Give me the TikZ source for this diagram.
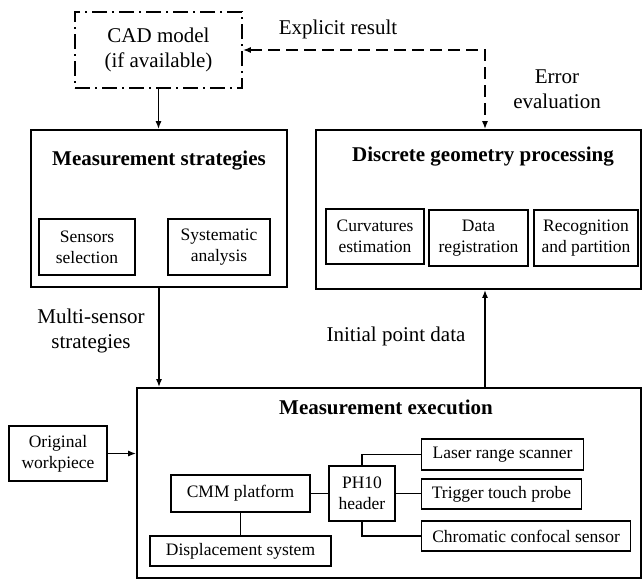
\documentclass[tikz,border=0pt]{standalone}
\usepackage{fontspec}
\setmainfont{Liberation Serif}
\usetikzlibrary{arrows.meta}
\newcommand{\bigtext}{\fontsize{21}{25}\selectfont}
\newcommand{\smalltext}{\fontsize{17.5}{21}\selectfont}

\begin{document}
\begin{tikzpicture}[x=1pt, y=-1pt, font=\bigtext,
    outerbox/.style={draw, line width=1.7pt, inner sep=0pt},
    innerbox/.style={draw, line width=1.1pt, inner sep=0pt, align=center, font=\smalltext},
    flow/.style={line width=1.4pt, -{Latex[length=8pt,width=6pt]}},
    link/.style={line width=1.4pt}]
  \useasboundingbox (0,0) rectangle (643,581);

  % The CAD model on top, drawn dash-dotted.
  \node[outerbox, align=center, dash pattern=on 15pt off 5pt on 2pt off 5pt,
        minimum width=167pt, minimum height=76pt] (cad) at (158.5,50) {CAD model\\(if available)};

  % Measurement strategies with its two parts.
  \node[outerbox, minimum width=256pt, minimum height=157pt] (strat) at (159,208.5) {};
  \node[font=\bigtext\bfseries] (strattitle) at (159,161) {Measurement strategies};
  \node[innerbox, minimum width=96pt, minimum height=56pt] (sens) at (87,247) {Sensors\\selection};
  \node[innerbox, minimum width=102pt, minimum height=56pt] (syst) at (219,247) {Systematic\\analysis};

  % Discrete geometry processing with its three parts.
  \node[outerbox, minimum width=325pt, minimum height=159pt] (dgp) at (478.5,209.5) {};
  \node[font=\bigtext\bfseries] (dgptitle) at (483,157) {Discrete geometry processing};
  \node[innerbox, minimum width=98pt, minimum height=55pt] (curv) at (375,236.5) {Curvatures\\estimation};
  \node[innerbox, minimum width=99pt, minimum height=56pt] (datareg) at (478.5,238) {Data\\registration};
  \node[innerbox, minimum width=104pt, minimum height=56pt] (recog) at (586,238) {Recognition\\and partition};

  % Measurement execution and the hardware inside it.
  \node[outerbox, minimum width=504pt, minimum height=190pt] (exec) at (389,483) {};
  \node[font=\bigtext\bfseries] (exectitle) at (386,407) {Measurement execution};
  \node[innerbox, minimum width=98pt, minimum height=55pt] (work) at (58,453.5) {Original\\workpiece};
  \node[innerbox, minimum width=139pt, minimum height=37pt] (cmm) at (240.5,493.5) {CMM platform};
  \node[innerbox, minimum width=66pt, minimum height=55pt] (ph) at (362,493.5) {PH10\\header};
  \node[innerbox, anchor=west, minimum width=162pt, minimum height=31pt] (laser) at (421,454.5) {Laser range scanner};
  \node[innerbox, anchor=west, minimum width=160pt, minimum height=30pt] (trig) at (421,494) {Trigger touch probe};
  \node[innerbox, anchor=west, minimum width=209pt, minimum height=30pt] (chrom) at (421,536) {Chromatic confocal sensor};
  \node[innerbox, minimum width=181pt, minimum height=30pt] (disp) at (240.5,551) {Displacement system};

  % Connector labels.
  \node (explicit) at (338,29) {Explicit result};
  \node[align=center] (error) at (557,89.5) {Error\\evaluation};
  \node[align=center] (multi) at (91,330.5) {Multi-sensor\\strategies};
  \node (initial) at (396,336) {Initial point data};

  % Flow between the blocks.
  \coordinate (corner) at (485,50);
  \draw[flow] (cad.south) -- (cad.south |- strat.north);
  \draw[flow, {Latex[length=8pt,width=6pt]}-{Latex[length=8pt,width=6pt]}, dash pattern=on 12pt off 6pt]
    (cad.east) -- (corner) -- (corner |- dgp.north);
  \draw[flow] (strat.south) -- (strat.south |- exec.north);
  \draw[flow] (exec.north -| corner) -- (corner |- dgp.south);
  \draw[flow] (work.east) -- (work.east -| exec.west);

  % Wiring of the hardware.
  \draw[link] (cmm.east) -- (cmm.east -| ph.west);
  \draw[link] (cmm.south) -- (disp.north);
  \draw[link] (ph.north) |- (laser.west);
  \draw[link] (ph.east) -- (ph.east -| trig.west);
  \draw[link] (ph.south) |- (chrom.west);
\end{tikzpicture}
\end{document}
